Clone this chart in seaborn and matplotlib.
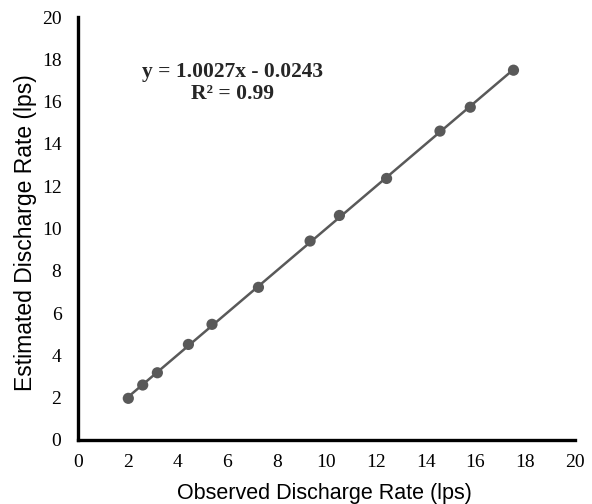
import pandas as pd
import matplotlib.pyplot as plt
import seaborn as sns

# Observed vs estimated discharge (lps)
observed = [2.02, 2.60, 3.19, 4.44, 5.39, 7.26, 9.34, 10.52, 12.42, 14.57, 15.79, 17.53]
estimated = [1.97, 2.60, 3.18, 4.52, 5.47, 7.22, 9.41, 10.62, 12.37, 14.61, 15.74, 17.49]
ticks = list(range(0, 21, 2))

df = pd.DataFrame({"Observed": observed, "Estimated": estimated})

sns.set_style("white")
fig = plt.figure(figsize=(5.92, 5.04), dpi=100)
ax = fig.add_axes([0.132, 0.127, 0.839, 0.839])

sns.regplot(
    x="Observed", y="Estimated", data=df, ax=ax, ci=None, truncate=True,
    color="#595959",
    scatter_kws={"s": 65, "alpha": 1, "edgecolor": "none", "zorder": 3},
    line_kws={"lw": 1.8},
)

ax.set_xlim(0, 20)
ax.set_ylim(0, 20)
ax.set_xticks(ticks)
ax.set_yticks(ticks)
ax.tick_params(axis="y", length=0, pad=12)
ax.tick_params(axis="x", length=0, pad=10)
for lab in ax.get_xticklabels() + ax.get_yticklabels():
    lab.set_fontfamily("Liberation Serif")
    lab.set_fontsize(14)
    lab.set_color("black")

for side in ["top", "right"]:
    ax.spines[side].set_visible(False)
for side in ["left", "bottom"]:
    ax.spines[side].set_color("black")
    ax.spines[side].set_linewidth(2.4)

ax.set_xlabel("Observed Discharge Rate (lps)", fontfamily="Liberation Sans",
              fontsize=15.5, color="black")
ax.set_ylabel("Estimated Discharge Rate (lps)", fontfamily="Liberation Sans",
              fontsize=16.5, color="black")
ax.xaxis.set_label_coords(0.495, -0.102)
ax.yaxis.set_label_coords(-0.082, 0.49)

ax.text(6.2, 17.4, "y = 1.0027x - 0.0243", ha="center", va="center",
        fontfamily="Liberation Serif", fontweight="bold", fontsize=15.5)
ax.text(6.2, 16.35, "R² = 0.99", ha="center", va="center",
        fontfamily="Liberation Serif", fontweight="bold", fontsize=15.5)

fig.savefig("out.png", dpi=100)
